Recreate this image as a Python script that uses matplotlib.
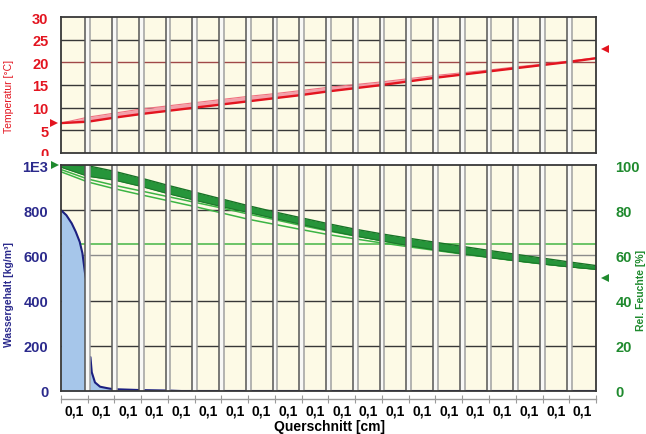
import numpy as np
import matplotlib.pyplot as plt
import matplotlib.transforms as mtransforms
from matplotlib.patches import Rectangle
from matplotlib.ticker import FixedLocator, FixedFormatter, NullFormatter

plt.rcParams['font.family'] = ['Liberation Sans', 'DejaVu Sans']

# === data ===
layer_thick = [0.1] * 20
layer_labels = ['0,1'] * 20

# temperature profile [°C] at the layer boundaries (lower / upper curve)
temp_low = [6.6, 6.9, 7.8, 8.6, 9.3, 10.0, 10.7, 11.4, 12.1, 12.8, 13.6,
            14.3, 15.0, 15.8, 16.6, 17.3, 18.0, 18.7, 19.4, 20.1, 20.9]
temp_high = [6.6, 7.9, 8.8, 9.7, 10.4, 11.1, 11.8, 12.5, 13.1, 13.8, 14.5,
             15.1, 15.7, 16.4, 17.1, 17.7, 18.3, 19.0, 19.6, 20.3, 21.0]
temp_left, temp_right = 6.6, 23.0

# relative humidity [%] at the layer boundaries
rh_top = [100, 99.7, 97.2, 94.2, 91.0, 88.0, 85.0, 82.0, 79.2, 76.6, 74.0,
          71.6, 69.5, 67.6, 65.8, 64.0, 62.2, 60.5, 58.8, 57.1, 55.5]
rh_band = [99.0, 95.0, 93.3, 90.5, 87.3, 84.4, 81.6, 79.0, 76.3, 73.7, 71.0,
           68.6, 66.4, 64.3, 62.4, 60.7, 59.1, 57.6, 56.2, 54.9, 53.8]
rh_a = [98.0, 93.8, 91.0, 88.5, 86.0, 83.5, 81.0, 78.3, 75.8, 73.2, 70.8,
        68.6, 66.5, 64.5, 62.6, 60.9, 59.3, 57.7, 56.3, 55.0, 54.0]
rh_b = [97.0, 92.5, 89.5, 86.8, 84.2, 81.6, 78.8, 76.0, 73.7, 71.4, 69.2,
        67.3, 65.5, 63.8, 62.2, 60.6, 59.1, 57.6, 56.2, 55.0, 54.0]
rh_left, rh_right = 100, 50
rh_limit = 65

# water content [kg/m³]
w_x1 = [0, 0.02, 0.04, 0.055, 0.07, 0.08, 0.09, 0.1]
w_y1 = [800, 778, 742, 705, 660, 610, 520, 450]
w_x2 = [0.1, 0.11, 0.115, 0.127, 0.146, 0.171, 0.19, 0.2, 0.25, 0.3, 0.35, 0.4, 0.45, 2.0]
w_y2 = [150, 150, 83, 38, 19, 13, 9, 8, 6, 4, 3, 2, 0, 0]

bounds = np.concatenate([[0], np.cumsum(layer_thick)])
centers = (bounds[:-1] + bounds[1:]) / 2

RED = '#e3141f'
NAVY = '#2b2a8c'
GREEN = '#1f8a2e'
CREAM = '#fdfae6'
DARK = '#383838'

fig = plt.figure(figsize=(6.46, 4.35), dpi=100)
ax_t = fig.add_axes([61/646, 1-154/435, 535/646, 136/435])
ax_b = fig.add_axes([61/646, 1-392/435, 535/646, 226/435])


def separators(ax):
    hw = 0.0085
    for b in bounds[1:-1]:
        ax.axvspan(b - hw, b + hw, color='#f8f8f6', lw=0, zorder=5)
        ax.axvline(b - hw, color='#555555', lw=1.1, zorder=6)
        ax.axvline(b + hw, color='#a0a0a0', lw=1.1, zorder=6)


for ax in (ax_t, ax_b):
    ax.set_facecolor(CREAM)
    ax.set_xlim(bounds[0], bounds[-1])
    for s in ax.spines.values():
        s.set_color(DARK)
        s.set_linewidth(1.3)
        s.set_zorder(8)
    separators(ax)

# --- temperature panel ---
ax_t.set_ylim(0, 30)
for y in [5, 10, 15, 25]:
    ax_t.axhline(y, color=DARK, lw=1.0, zorder=1)
ax_t.axhline(20, color='#a04848', lw=1.0, zorder=1)
ax_t.fill_between(bounds, temp_low, temp_high, color='#f3a0aa', lw=0, zorder=2)
ax_t.plot(bounds, temp_high, color='#f07080', lw=0.8, zorder=3)
ax_t.plot(bounds, temp_low, color=RED, lw=1.7, zorder=3)
ax_t.set_xticks([])
ax_t.set_yticks([0, 5, 10, 15, 20, 25, 30])
ax_t.tick_params(axis='y', length=0, pad=9, labelsize=10.5, labelcolor=RED)
for lab in ax_t.get_yticklabels():
    lab.set_fontweight('bold')
# the lowest label is half hidden behind the lower panel, as in the original
clip = Rectangle((0, 1-157/435), 1, 157/435, transform=fig.transFigure, visible=False)
fig.add_artist(clip)
ax_t.get_yticklabels()[0].set_clip_path(clip)
ax_t.set_ylabel('Temperatur [°C]', color=RED, fontsize=7.5)
ax_t.yaxis.set_label_coords(-0.088, 0.42)
tr = mtransforms.blended_transform_factory(ax_t.transAxes, ax_t.transData)
ax_t.plot([-0.014], [temp_left], marker='>', color=RED, ms=6, mew=0, transform=tr, clip_on=False)
ax_t.plot([1.016], [temp_right], marker='<', color=RED, ms=6, mew=0, transform=tr, clip_on=False)

# --- moisture panel (RH plotted in left-axis units: % * 10) ---
ax_b.set_ylim(0, 1000)
for y in [200, 400, 800]:
    ax_b.axhline(y, color=DARK, lw=1.0, zorder=1)
ax_b.axhline(600, color='#8c8c8c', lw=1.0, zorder=1)
ax_b.axhline(rh_limit * 10, color='#45b545', lw=1.1, zorder=2)

s = 10
ax_b.plot(bounds, np.array(rh_a) * s, color='#3cb444', lw=1.1, zorder=2)
ax_b.plot(bounds, np.array(rh_b) * s, color='#3cb444', lw=1.1, zorder=2)
ax_b.fill_between(bounds, np.array(rh_band) * s, np.array(rh_top) * s, color='#26953a', lw=0, zorder=3)
ax_b.plot(bounds, np.array(rh_top) * s, color='#187326', lw=1.0, zorder=3)
ax_b.plot(bounds, np.array(rh_band) * s, color='#1c7a2a', lw=0.8, zorder=3)

ax_b.fill_between(w_x1, w_y1, 0, color='#a6c6ea', lw=0, zorder=3)
ax_b.fill_between(w_x2, w_y2, 0, color='#a6c6ea', lw=0, zorder=3)
ax_b.plot(w_x1, w_y1, color='#1c2080', lw=1.5, zorder=4)
ax_b.plot(w_x2, w_y2, color='#1c2080', lw=1.5, zorder=4)

ax_b.set_yticks([0, 200, 400, 600, 800, 1000])
ax_b.set_yticklabels(['0', '200', '400', '600', '800', '1E3'])
ax_b.tick_params(axis='y', length=0, pad=9, labelsize=10.5, labelcolor=NAVY)
for lab in ax_b.get_yticklabels():
    lab.set_fontweight('bold')
ax_b.set_ylabel('Wassergehalt [kg/m³]', color=NAVY, fontsize=7.5, fontweight='bold')
ax_b.yaxis.set_label_coords(-0.088, 0.43)

# x axis: offset gray line with boundary ticks, labels in the layer centres
ax_b.axhline(0, color=DARK, lw=1.3, zorder=8, clip_on=False)
ax_b.spines['bottom'].set_position(('outward', 6))
ax_b.spines['bottom'].set_color('#9a9a9a')
ax_b.spines['bottom'].set_linewidth(1.0)
ax_b.xaxis.set_major_locator(FixedLocator(bounds))
ax_b.xaxis.set_major_formatter(NullFormatter())
ax_b.xaxis.set_minor_locator(FixedLocator(centers))
ax_b.xaxis.set_minor_formatter(FixedFormatter(layer_labels))
ax_b.tick_params(axis='x', which='major', direction='inout', length=6, color='#9a9a9a')
ax_b.tick_params(axis='x', which='minor', length=0, pad=3, labelsize=10)
for lab in ax_b.get_xminorticklabels():
    lab.set_fontweight('bold')
fig.text(330/646, 1-427/435, 'Querschnitt [cm]', ha='center', va='center', fontsize=10,
         fontweight='bold')

ax_rh = ax_b.twinx()
ax_rh.set_ylim(0, 100)
ax_rh.patch.set_visible(False)
for sp in ax_rh.spines.values():
    sp.set_visible(False)
ax_rh.set_yticks([0, 20, 40, 60, 80, 100])
ax_rh.tick_params(axis='y', length=0, pad=14, labelsize=10.5, labelcolor=GREEN)
for lab in ax_rh.get_yticklabels():
    lab.set_fontweight('bold')
ax_rh.set_ylabel('Rel. Feuchte [%]', color=GREEN, fontsize=7.5, fontweight='bold')
ax_rh.yaxis.set_label_coords(1.074, 0.45)
tr2 = mtransforms.blended_transform_factory(ax_rh.transAxes, ax_rh.transData)
ax_rh.plot([-0.012], [rh_left], marker='>', color=GREEN, ms=6, mew=0, transform=tr2, clip_on=False)
ax_rh.plot([1.016], [rh_right], marker='<', color=GREEN, ms=6, mew=0, transform=tr2, clip_on=False)

plt.savefig('out.png', dpi=100)
